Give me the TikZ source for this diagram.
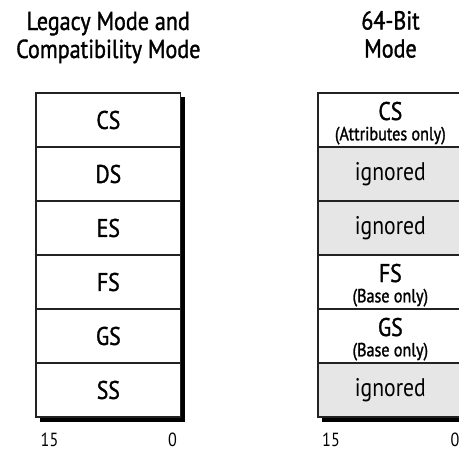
\documentclass[tikz,border=0pt]{standalone}
\usepackage{fontspec}
\setmainfont{PT Sans}[FakeStretch=0.85,RawFeature={embolden=1.3}]
\newfontfamily\lightfont{PT Sans}[FakeStretch=0.85]
\definecolor{cellgrey}{HTML}{E6E6E6}
\definecolor{linegrey}{HTML}{222222}
\begin{document}
\begin{tikzpicture}[x=1pt,y=-1pt,
  cell/.style={draw=linegrey, line width=1.3pt, minimum width=144.7pt, minimum height=54pt,
    inner sep=0pt, outer sep=0pt, fill=white, font=\fontsize{25.5}{29}\selectfont},
  greycell/.style={cell, fill=cellgrey, font=\lightfont\fontsize{25.5}{29}\selectfont},
  shadowbox/.style={fill=black, draw=none},
  bigtext/.style={font=\fontsize{25.5}{29}\selectfont, inner sep=0pt, anchor=base},
  smalltext/.style={font=\fontsize{19}{22}\selectfont, inner sep=0pt, anchor=base},
  titletext/.style={font=\fontsize{26}{30}\selectfont, inner sep=0pt, anchor=base},
  bittext/.style={font=\lightfont\fontsize{19}{22}\selectfont, inner sep=0pt, anchor=base}]
\useasboundingbox (0,0) rectangle (459,451);
\clip (0,0) rectangle (459,451);

% titles
\node[titletext] (t1a) at (108.3,30) {Legacy Mode and};
\node[titletext] (t1b) at (108.3,58) {Compatibility Mode};
\node[titletext] (t2a) at (390.5,29.5) {64-Bit};
\node[titletext] (t2b) at (390.5,57.5) {Mode};

% shadows
\fill[shadowbox] (40,97) rectangle (185.2,421.5);
\fill[shadowbox] (322,97) rectangle (467.2,421.5);

% left table
\node[cell] (L1) at (108.35,120) {CS};
\node[cell] (L2) at (108.35,174) {DS};
\node[cell] (L3) at (108.35,228) {ES};
\node[cell] (L4) at (108.35,282) {FS};
\node[cell] (L5) at (108.35,336) {GS};
\node[cell] (L6) at (108.35,390) {SS};

% right table
\node[cell] (R1) at (390.35,120) {};
\node[greycell] (R2) at (390.35,174) {ignored};
\node[greycell] (R3) at (390.35,228) {ignored};
\node[cell] (R4) at (390.35,282) {};
\node[cell] (R5) at (390.35,336) {};
\node[greycell] (R6) at (390.35,390) {ignored};

\node[bigtext] (R1a) at ([yshift=-27pt]R1.north) {CS};
\node[smalltext] (R1b) at ([yshift=-47.3pt]R1.north) {(Attributes only)};
\node[bigtext] (R4a) at ([yshift=-27pt]R4.north) {FS};
\node[smalltext] (R4b) at ([yshift=-47.3pt]R4.north) {(Base only)};
\node[bigtext] (R5a) at ([yshift=-27pt]R5.north) {GS};
\node[smalltext] (R5b) at ([yshift=-47.3pt]R5.north) {(Base only)};

% bit numbers
\node[bittext] (b1) at (49.5,446) {15};
\node[bittext] (b2) at (172.5,446) {0};
\node[bittext] (b3) at (331,446) {15};
\node[bittext] (b4) at (455,446) {0};
\end{tikzpicture}
\end{document}
